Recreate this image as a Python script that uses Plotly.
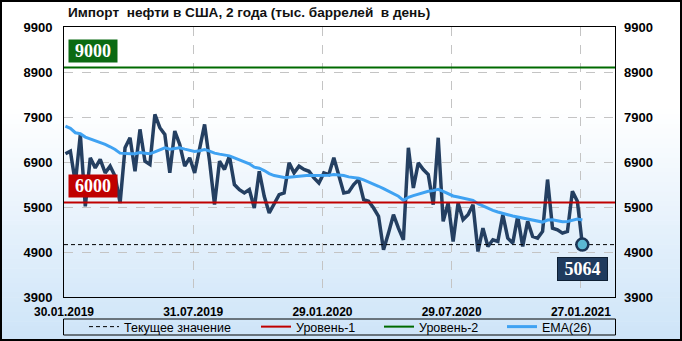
import pandas as pd
import plotly.graph_objects as go

# ---------------- data ----------------
title_text = "Импорт\u00a0 нефти в США, 2 года (тыс. баррелей\u00a0 в день)"
start_date = "2019-02-01"

imports = [
    7082, 7142, 6435, 7513, 5915, 6993, 6770, 6956, 6658, 6807,
    6584, 5989, 7216, 7439, 6695, 7625, 6918, 6844, 7959, 7662,
    7513, 6658, 7588, 7290, 6807, 6993, 6658, 7216, 7736, 6918,
    5952, 6918, 6733, 7030, 6398, 6286, 6212, 6286, 5877, 6695,
    6138, 5766, 5952, 6175, 6212, 6881, 6658, 6807, 6733, 6695,
    6547, 6435, 6658, 6621, 6993, 6621, 6212, 6234, 6398, 6510,
    6063, 6026, 5877, 5692, 4948, 5320, 5729, 5431, 5171, 7216,
    6324, 6881, 6733, 6621, 5952, 7439, 5580, 5989, 5134, 5989,
    5617, 5729, 5952, 4911, 5431, 5022, 5171, 5134, 5729, 5208,
    5097, 5692, 5022, 5580, 5246, 5208, 5357, 6510, 5431, 5394,
    5320, 5357, 6249, 6026, 5064,
]

ema26 = [
    7699, 7647, 7550, 7528, 7454, 7417, 7365, 7327, 7290, 7238,
    7179, 7097, 7082, 7082, 7082, 7112, 7097, 7082, 7127, 7179,
    7216, 7186, 7208, 7216, 7186, 7164, 7135, 7149, 7179, 7142,
    7097, 7075, 7060, 7037, 6993, 6948, 6904, 6859, 6785, 6762,
    6710, 6643, 6599, 6569, 6554, 6562, 6576, 6584, 6599, 6606,
    6599, 6599, 6606, 6606, 6621, 6613, 6599, 6569, 6554, 6539,
    6502, 6457, 6420, 6361, 6309, 6257, 6190, 6138, 6049, 6116,
    6153, 6190, 6220, 6249, 6264, 6294, 6249, 6190, 6145, 6123,
    6095, 6070, 6049, 5974, 5922, 5877, 5825, 5788, 5766, 5729,
    5699, 5677, 5655, 5632, 5602, 5580, 5565, 5610, 5617, 5595,
    5573, 5580, 5610, 5632, 5610,
]

level1 = 6000
level2 = 9000
y_ticks = [3900, 4900, 5900, 6900, 7900, 8900, 9900]
y_tick_labels = [str(v) for v in y_ticks]
x_ticks = ["2019-01-30", "2019-07-31", "2020-01-29", "2020-07-29", "2021-01-27"]
x_tick_labels = ["30.01.2019", "31.07.2019", "29.01.2020", "29.07.2020", "27.01.2021"]
x_range = ["2019-01-30", "2021-03-16"]

legend_names = ["Текущее значение", "Уровень-1", "Уровень-2", "EMA(26)"]

dates = pd.date_range(start_date, periods=len(imports), freq="7D")
last_value = imports[-1]

# ---------------- geometry ----------------
W, H = 682, 341
ML, MR, MT, MB = 64, 67, 27, 44
PW, PH = W - ML - MR, H - MT - MB


def px_x(X):
    return (X - ML) / PW


def px_y(Y):
    return (H - MB - Y) / PH


FONT = "Liberation Sans"
SERIF = "Liberation Serif"

fig = go.Figure()

# main series
fig.add_trace(go.Scatter(
    x=dates, y=imports, mode="lines", showlegend=False,
    line=dict(color="#243f61", width=3.5), hoverinfo="skip"))

# EMA
fig.add_trace(go.Scatter(
    x=dates, y=ema26, mode="lines", name=legend_names[3], legend="legend4",
    line=dict(color="#3fa2f2", width=3), hoverinfo="skip"))

# levels
fig.add_trace(go.Scatter(
    x=x_range, y=[level1, level1], mode="lines", name=legend_names[1],
    legend="legend2", line=dict(color="#c00000", width=2), hoverinfo="skip"))
fig.add_trace(go.Scatter(
    x=x_range, y=[level2, level2], mode="lines", name=legend_names[2],
    legend="legend3", line=dict(color="#006a00", width=2), hoverinfo="skip",
    yaxis="y2"))

# current value dashed line
fig.add_trace(go.Scatter(
    x=x_range, y=[last_value, last_value], mode="lines", name=legend_names[0],
    legend="legend", line=dict(color="black", width=1, dash="4px,3px"),
    hoverinfo="skip"))

# last point marker
fig.add_trace(go.Scatter(
    x=[dates[-1]], y=[last_value], mode="markers", showlegend=False,
    marker=dict(size=12, color="#5bb8d3", line=dict(color="#1b3556", width=2.5)),
    cliponaxis=False, hoverinfo="skip"))

# ---------------- background gradient ----------------
shapes = []
g_top, g_bot = 110, H
n = 48
c0 = (255, 255, 255)
c1 = (205, 228, 248)
for k in range(n):
    y0 = g_top + (g_bot - g_top) * k / n
    y1 = g_top + (g_bot - g_top) * (k + 1) / n
    t = (k + 0.5) / n
    col = tuple(round(c0[j] + (c1[j] - c0[j]) * t) for j in range(3))
    shapes.append(dict(
        type="rect", xref="paper", yref="paper", layer="below",
        x0=px_x(0), x1=px_x(W), y0=px_y(y1), y1=px_y(y0) + 0.002,
        fillcolor="rgb(%d,%d,%d)" % col, line=dict(width=0)))

# outer border
shapes.append(dict(type="rect", xref="paper", yref="paper", layer="above",
                   x0=px_x(1), x1=px_x(W - 1), y0=px_y(H - 1), y1=px_y(1),
                   line=dict(color="black", width=2)))
# legend frame
shapes.append(dict(type="rect", xref="paper", yref="paper", layer="above",
                   x0=px_x(63.5), x1=px_x(615.5), y0=px_y(335), y1=px_y(319),
                   line=dict(color="black", width=1)))

# ---------------- annotations ----------------
box_font = dict(family=SERIF, size=18, color="white", weight="bold")
annotations = [
    dict(x=0, xref="paper", xanchor="left", xshift=4,
         y=level2, yref="y", yanchor="bottom", yshift=5,
         text=str(level2), showarrow=False, font=box_font,
         bgcolor="#0b6a12", width=44, height=18, borderpad=2),
    dict(x=0, xref="paper", xanchor="left", xshift=4,
         y=level1, yref="y", yanchor="bottom", yshift=5,
         text=str(level1), showarrow=False, font=box_font,
         bgcolor="#c00000", width=44, height=18, borderpad=2),
    dict(x=dates[-1], xref="x", xanchor="center",
         y=last_value, yref="y", yanchor="top", yshift=-12,
         text=str(last_value), showarrow=False, font=box_font,
         bgcolor="#1f3b5e", bordercolor="#0e1f33", borderwidth=1,
         width=45, height=18, borderpad=2),
]

# ---------------- legends ----------------
leg_font = dict(family=FONT, size=12.5, color="black")
leg_y = 1 - 327 / H


def leg(xpx):
    return dict(x=xpx / W, xref="container", xanchor="left",
                y=leg_y, yref="container", yanchor="middle",
                orientation="h", bgcolor="rgba(0,0,0,0)", borderwidth=0,
                font=leg_font, itemclick=False)


axis_font = dict(family=FONT, size=13, color="black", weight="bold")

fig.update_layout(
    width=W, height=H,
    margin=dict(l=ML, r=MR, t=MT, b=MB, pad=0, autoexpand=False),
    paper_bgcolor="white", plot_bgcolor="rgba(0,0,0,0)",
    title=dict(text=title_text, x=68 / W, xanchor="left", xref="container",
               y=1 - 12 / H, yanchor="middle", yref="container",
               font=dict(family=FONT, size=13.6, color="#111111", weight="bold")),
    xaxis=dict(type="date", range=x_range, tickvals=x_ticks, ticktext=x_tick_labels,
               showgrid=True, gridcolor="#c4c4c4", griddash="dash", gridwidth=1,
               showline=True, linecolor="black", linewidth=1, mirror=True,
               ticks="", tickfont=dict(family=FONT, size=12, color="black", weight="bold"),
               ticklabelstandoff=4,
               zeroline=False, fixedrange=True, automargin=False),
    yaxis=dict(range=[y_ticks[0], y_ticks[-1]], tickvals=y_ticks, ticktext=y_tick_labels,
               showgrid=True, gridcolor="#c4c4c4", griddash="dash", gridwidth=1,
               showline=True, linecolor="black", linewidth=1, mirror=True,
               ticks="", tickfont=axis_font, ticklabelstandoff=8,
               zeroline=False, fixedrange=True, automargin=False),
    yaxis2=dict(range=[y_ticks[0], y_ticks[-1]], tickvals=y_ticks, ticktext=y_tick_labels,
                overlaying="y", side="right", showgrid=False, showline=False, ticks="",
                tickfont=axis_font, ticklabelstandoff=8, zeroline=False,
                fixedrange=True, automargin=False),
    legend=leg(84),
    legend2=leg(256),
    legend3=leg(379),
    legend4=leg(502),
    shapes=shapes,
    annotations=annotations,
    showlegend=True,
)

fig.write_html("out.html")
